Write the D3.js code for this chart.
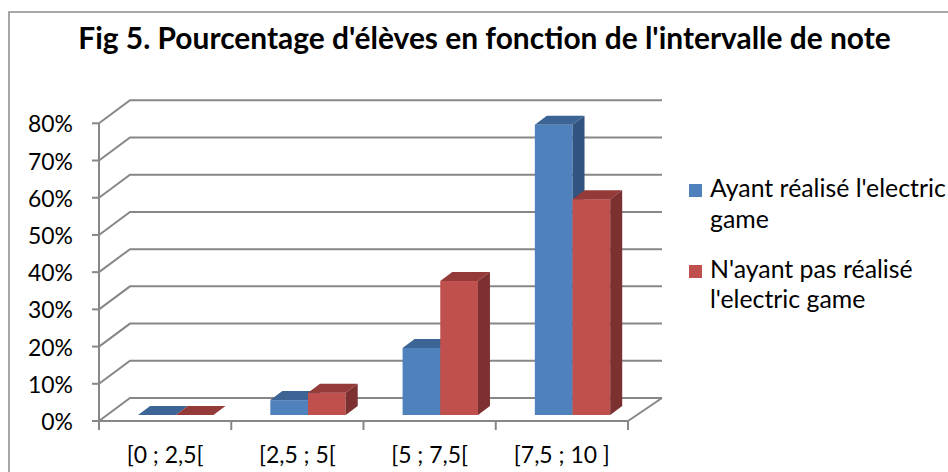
<!DOCTYPE html>
<html><head><meta charset="utf-8">
<script src="https://cdn.jsdelivr.net/npm/d3@7"></script>
<style>html,body{margin:0;padding:0;background:#fff;}svg{display:block;}</style>
</head><body>
<script>
const categories = ["[0 ; 2,5[", "[2,5 ; 5[", "[5 ; 7,5[", "[7,5 ; 10 ]"];
const seriesNames = ["Ayant réalisé l'electric game", "N'ayant pas réalisé l'electric game"];
const legendLines = [["Ayant réalisé l'electric", "game"], ["N'ayant pas réalisé", "l'electric game"]];
const seriesA = [0, 0.04, 0.18, 0.78];
const seriesB = [0, 0.06, 0.36, 0.58];
const yTicks = [0, 0.1, 0.2, 0.3, 0.4, 0.5, 0.6, 0.7, 0.8];
const title = "Fig 5. Pourcentage d'élèves en fonction de l'intervalle de note";

const W = 948, H = 472;
const FONT = "Lato, 'Open Sans', sans-serif";
const svg = d3.select("body").append("svg").attr("width", W).attr("height", H);

// frame
svg.append("rect").attr("x", 9).attr("y", 12).attr("width", 960).attr("height", 480)
  .attr("fill", "#fff").attr("stroke", "#8c8c8c").attr("stroke-width", 1.5);

function fitText(sel, target) {
  const w = sel.node().getComputedTextLength();
  const fs = parseFloat(sel.attr("font-size"));
  sel.attr("font-size", fs * target / w);
  return fs * target / w;
}

// title
const t = svg.append("text").attr("x", 484.5).attr("y", 49).attr("text-anchor", "middle")
  .attr("font-family", FONT).attr("font-weight", "bold").attr("font-size", 25).attr("fill", "#000").text(title);
fitText(t, 813);

// geometry
const X0 = 99, X1 = 628, DX = 31, DY = -23;
const y = d3.scaleLinear().domain([0, 0.8]).range([421, 123.3]);
const x = d3.scaleBand().domain(categories).range([X0, X1]);
const bw = x.bandwidth();
const inner = d3.scaleBand().domain([0, 1]).range([bw * 0.235, bw * 0.235 + bw * 0.57]);

const gridColor = "#878787";
svg.append("g").selectAll("path").data(yTicks).join("path")
  .attr("d", d => `M${X0},${y(d)}L${X0 + DX},${y(d) + DY}L${X1 + DX + 3},${y(d) + DY}`)
  .attr("fill", "none").attr("stroke", gridColor).attr("stroke-width", 2);
svg.append("path").attr("d", `M${X1},${y(0)}L${X1 + DX + 3},${y(0) + DY}`)
  .attr("fill", "none").attr("stroke", gridColor).attr("stroke-width", 2);

// bars
const SX = 8, SY = -6, BDX = 12, BDY = -9;
const colors = [
  {front: "#4F81BD", top: "#3C6494", side: "#31537F"},
  {front: "#C0504D", top: "#943A38", side: "#7C302F"}
];
const gBars = svg.append("g");
categories.forEach((c, i) => {
  [seriesA[i], seriesB[i]].forEach((v, s) => {
    const bx = x(c) + inner(s) + SX;
    const w = inner.bandwidth();
    const base = y(0) + SY;
    const top = y(v) + SY;
    const col = colors[s];
    const g = gBars.append("g");
    if (v > 0) g.append("rect").attr("x", bx).attr("y", top).attr("width", w).attr("height", base - top).attr("fill", col.front);
    g.append("path").attr("d", `M${bx},${top}L${bx + BDX},${top + BDY}L${bx + w + BDX},${top + BDY}L${bx + w},${top}Z`).attr("fill", col.top);
    if (v > 0) g.append("path").attr("d", `M${bx + w},${top}L${bx + w + BDX},${top + BDY}L${bx + w + BDX},${base + BDY}L${bx + w},${base}Z`).attr("fill", col.side);
  });
});

// axes
svg.append("line").attr("x1", X0).attr("x2", X0).attr("y1", y(0)).attr("y2", y(0.8))
  .attr("stroke", gridColor).attr("stroke-width", 2);
svg.append("line").attr("x1", X0).attr("x2", X1).attr("y1", y(0)).attr("y2", y(0))
  .attr("stroke", gridColor).attr("stroke-width", 2);
svg.append("g").selectAll("line").data(yTicks).join("line")
  .attr("x1", X0 - 7).attr("x2", X0).attr("y1", d => y(d)).attr("y2", d => y(d))
  .attr("stroke", gridColor).attr("stroke-width", 2);
const xTickPos = categories.map(c => x(c)).concat([X1]);
svg.append("g").selectAll("line").data(xTickPos).join("line")
  .attr("x1", d => d).attr("x2", d => d).attr("y1", y(0)).attr("y2", y(0) + 9)
  .attr("stroke", gridColor).attr("stroke-width", 2);

// y labels
const fmt = d3.format(".0%");
const yl = svg.append("g").selectAll("text").data(yTicks).join("text")
  .attr("x", 73).attr("y", d => y(d) + 9).attr("text-anchor", "end")
  .attr("font-family", FONT).attr("font-size", 21).attr("fill", "#000").text(d => fmt(d));
const base80 = yl.filter(d => d === 0.8).node().getComputedTextLength();
const labFs = 21 * 45 / base80;
yl.attr("font-size", labFs);

// x labels
svg.append("g").selectAll("text").data(categories).join("text")
  .attr("x", d => x(d) + bw / 2).attr("y", 463).attr("text-anchor", "middle")
  .attr("font-family", FONT).attr("font-size", labFs).attr("fill", "#000").text(d => d);

// legend
const leg = svg.append("g");
const legY = [[197, 228], [278, 308]];
const legSq = [184, 265];
const probe = leg.append("text").attr("font-family", FONT).attr("font-size", 21).text(legendLines[0][0]);
const legFs = 21 * 236 / probe.node().getComputedTextLength();
probe.remove();
seriesNames.forEach((n, s) => {
  leg.append("rect").attr("x", 689).attr("y", legSq[s]).attr("width", 13).attr("height", 13).attr("fill", colors[s].front);
  legendLines[s].forEach((ln, k) => {
    leg.append("text").attr("x", 710).attr("y", legY[s][k]).attr("font-family", FONT)
      .attr("font-size", legFs).attr("fill", "#000").text(ln);
  });
});
</script>
</body></html>
